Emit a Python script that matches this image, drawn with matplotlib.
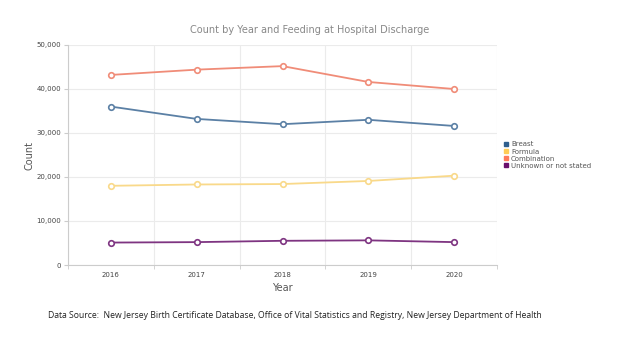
import matplotlib.pyplot as plt
from matplotlib.lines import Line2D
from matplotlib.ticker import FuncFormatter, FixedLocator

years = ["2016", "2017", "2018", "2019", "2020"]
breast = [36000, 33200, 32000, 33000, 31600]
formula = [18000, 18300, 18400, 19100, 20300]
combination = [43200, 44400, 45200, 41600, 40000]
unknown = [5100, 5200, 5500, 5600, 5200]

series = [
    ("Breast", breast, "#5b80a5", "#2f5f8e"),
    ("Formula", formula, "#f9d98a", "#ffcc55"),
    ("Combination", combination, "#f08c78", "#ff7a5a"),
    ("Unknown or not stated", unknown, "#7e3481", "#6a0f6c"),
]

fig = plt.figure(figsize=(6.24, 3.51), dpi=100)
ax = fig.add_axes([68 / 624, 1 - 265 / 351, (497 - 68) / 624, (265 - 45) / 351])

x = list(range(len(years)))
for name, vals, col, _ in series:
    ax.plot(x, vals, color=col, linewidth=1.3, marker="o", markersize=4,
            markerfacecolor="white", markeredgecolor=col, markeredgewidth=1.2, zorder=3)

ax.set_xlim(-0.5, len(years) - 0.5)
ax.set_ylim(0, 50000)
ax.set_xticks(x)
ax.set_xticklabels(years, fontsize=5, color="#444444")
ax.xaxis.set_minor_locator(FixedLocator([i + 0.5 for i in range(-1, len(years))]))
ax.tick_params(axis="x", which="major", length=0, pad=5)
ax.tick_params(axis="x", which="minor", length=3, color="#cccccc")
ax.set_yticks([0, 10000, 20000, 30000, 40000, 50000])
ax.yaxis.set_major_formatter(FuncFormatter(lambda v, p: f"{int(v):,}"))
ax.tick_params(axis="y", labelsize=5, colors="#444444", length=3, color="#cccccc", pad=2)

ax.grid(axis="y", color="#ebebeb", linewidth=0.8)
ax.grid(axis="x", which="minor", color="#ebebeb", linewidth=0.8)
ax.set_axisbelow(True)
for s in ["top", "right"]:
    ax.spines[s].set_visible(False)
ax.spines["left"].set_color("#cccccc")
ax.spines["bottom"].set_color("#cccccc")

ax.set_xlabel("Year", fontsize=7, color="#555555")
ax.xaxis.set_label_coords(0.5, -0.08)
ax.set_ylabel("Count", fontsize=7, color="#555555")
ax.yaxis.set_label_coords(-0.077, 0.5)

fig.text(310 / 624, 1 - 30 / 351, "Count by Year and Feeding at Hospital Discharge",
         ha="center", va="center", fontsize=7, color="#888888")

handles = [Line2D([], [], marker="s", linestyle="", markersize=3.5,
                  markerfacecolor=lc, markeredgecolor=lc) for _, _, _, lc in series]
fig.legend(handles, [s[0] for s in series], loc="upper left",
           bbox_to_anchor=(500 / 624, 1 - 138 / 351), frameon=False, fontsize=5,
           handletextpad=0.3, labelspacing=0.15, borderpad=0, handlelength=0.8,
           labelcolor="#555555")

fig.text(48 / 624, 1 - 316 / 351,
         "Data Source:  New Jersey Birth Certificate Database, Office of Vital Statistics and Registry, New Jersey Department of Health",
         ha="left", va="center", fontsize=6.2, color="#222222", family="Open Sans")

fig.savefig("out.png", dpi=100)
